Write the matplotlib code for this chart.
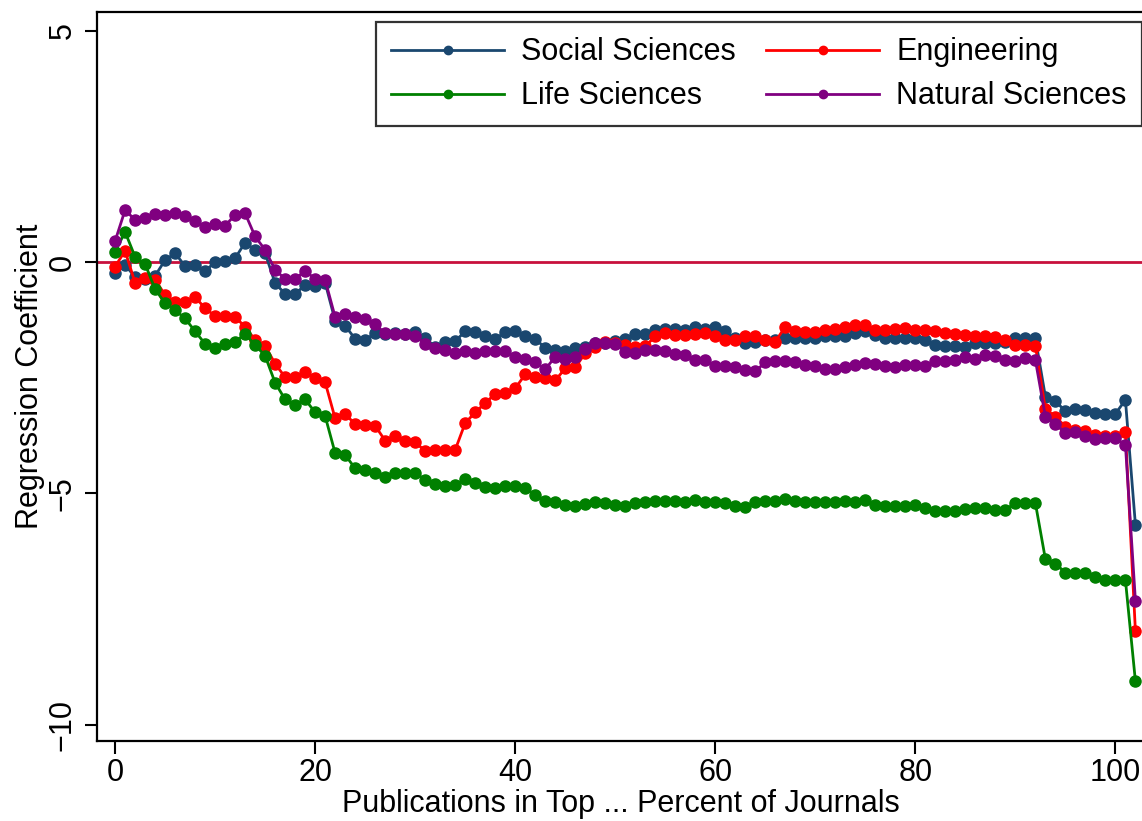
import matplotlib
matplotlib.use("Agg")
import matplotlib.pyplot as plt
import numpy as np

plt.rcParams['font.family'] = ['Liberation Sans', 'DejaVu Sans']

# Prozent der Top-Journale (0..102)
percent = np.arange(0, 103)

social = [-0.23, -0.06, -0.33, -0.37, -0.30, 0.04, 0.19, -0.09, -0.06, -0.19,
          -0.01, 0.02, 0.08, 0.42, 0.26, 0.19, -0.46, -0.69, -0.69, -0.50,
          -0.52, -0.45, -1.27, -1.38, -1.66, -1.68, -1.54, -1.55, -1.54, -1.55,
          -1.51, -1.65, -1.83, -1.72, -1.71, -1.50, -1.52, -1.61, -1.66, -1.52,
          -1.50, -1.61, -1.66, -1.86, -1.90, -1.93, -1.86, -1.84, -1.76, -1.75,
          -1.71, -1.66, -1.56, -1.56, -1.47, -1.45, -1.44, -1.47, -1.41, -1.44,
          -1.41, -1.50, -1.65, -1.76, -1.72, -1.68, -1.68, -1.65, -1.65, -1.65,
          -1.65, -1.61, -1.61, -1.61, -1.54, -1.50, -1.57, -1.65, -1.65, -1.65,
          -1.65, -1.68, -1.79, -1.81, -1.81, -1.83, -1.76, -1.76, -1.76, -1.72,
          -1.65, -1.65, -1.65, -2.91, -3.00, -3.23, -3.18, -3.19, -3.26, -3.28,
          -3.28, -2.98, -5.68]

engineering = [-0.10, 0.24, -0.45, -0.35, -0.39, -0.71, -0.86, -0.86, -0.76, -1.00,
               -1.17, -1.17, -1.18, -1.41, -1.68, -1.81, -2.20, -2.49, -2.49, -2.37,
               -2.51, -2.60, -3.38, -3.29, -3.50, -3.52, -3.54, -3.86, -3.75, -3.86,
               -3.90, -4.08, -4.07, -4.07, -4.06, -3.48, -3.25, -3.05, -2.85, -2.83,
               -2.73, -2.43, -2.49, -2.51, -2.56, -2.30, -2.28, -1.97, -1.84, -1.72,
               -1.75, -1.80, -1.83, -1.82, -1.61, -1.54, -1.57, -1.57, -1.56, -1.54,
               -1.59, -1.68, -1.68, -1.61, -1.61, -1.68, -1.72, -1.40, -1.50, -1.52,
               -1.52, -1.47, -1.45, -1.41, -1.36, -1.36, -1.47, -1.46, -1.44, -1.43,
               -1.46, -1.46, -1.50, -1.54, -1.55, -1.57, -1.59, -1.61, -1.62, -1.69,
               -1.79, -1.79, -1.81, -3.18, -3.34, -3.56, -3.63, -3.66, -3.74, -3.77,
               -3.76, -3.67, -7.98]

life = [0.22, 0.65, 0.11, -0.04, -0.59, -0.89, -1.04, -1.22, -1.50, -1.77,
        -1.86, -1.77, -1.72, -1.56, -1.79, -2.03, -2.61, -2.97, -3.09, -2.97,
        -3.25, -3.33, -4.13, -4.17, -4.46, -4.49, -4.56, -4.65, -4.56, -4.56,
        -4.55, -4.71, -4.79, -4.85, -4.82, -4.69, -4.78, -4.87, -4.88, -4.85,
        -4.85, -4.89, -5.03, -5.16, -5.18, -5.25, -5.27, -5.24, -5.18, -5.21,
        -5.25, -5.27, -5.21, -5.19, -5.17, -5.17, -5.17, -5.19, -5.14, -5.19,
        -5.19, -5.20, -5.27, -5.30, -5.18, -5.17, -5.17, -5.13, -5.17, -5.18,
        -5.18, -5.18, -5.18, -5.16, -5.18, -5.14, -5.25, -5.27, -5.27, -5.27,
        -5.25, -5.32, -5.37, -5.37, -5.39, -5.34, -5.32, -5.32, -5.35, -5.35,
        -5.21, -5.21, -5.21, -6.42, -6.52, -6.71, -6.72, -6.73, -6.81, -6.88,
        -6.87, -6.87, -9.06]

natural = [0.45, 1.12, 0.91, 0.94, 1.03, 1.02, 1.05, 0.99, 0.89, 0.75,
           0.81, 0.78, 1.02, 1.05, 0.55, 0.26, -0.17, -0.37, -0.37, -0.19,
           -0.37, -0.39, -1.19, -1.12, -1.20, -1.24, -1.35, -1.54, -1.56, -1.56,
           -1.60, -1.77, -1.86, -1.90, -1.97, -1.92, -1.97, -1.93, -1.93, -1.93,
           -2.05, -2.10, -2.17, -2.32, -2.05, -2.10, -2.05, -1.89, -1.76, -1.76,
           -1.77, -1.94, -1.97, -1.90, -1.90, -1.93, -1.98, -2.01, -2.12, -2.12,
           -2.25, -2.25, -2.28, -2.33, -2.36, -2.17, -2.14, -2.15, -2.17, -2.22,
           -2.25, -2.32, -2.32, -2.28, -2.22, -2.19, -2.21, -2.25, -2.28, -2.22,
           -2.22, -2.25, -2.15, -2.15, -2.12, -2.06, -2.10, -2.01, -2.03, -2.12,
           -2.15, -2.08, -2.12, -3.34, -3.50, -3.69, -3.67, -3.75, -3.83, -3.81,
           -3.81, -3.95, -7.32]

fig = plt.figure(figsize=(11.42, 8.21), dpi=100)
ax = fig.add_axes([0.085, 0.0974, 0.918, 0.888])

ax.axhline(0, color='#c8103c', linewidth=2, zorder=1)

kw = dict(marker='o', markersize=8, linewidth=2)
l_soc, = ax.plot(percent, social, color='#1a476f', label='Social Sciences', **kw)
l_eng, = ax.plot(percent, engineering, color='#ff0000', label='Engineering', **kw)
l_life, = ax.plot(percent, life, color='#008000', label='Life Sciences', **kw)
l_nat, = ax.plot(percent, natural, color='#800080', label='Natural Sciences', **kw)

ax.set_xlim(-1.8, 103.0)
ax.set_ylim(-10.35, 5.4)
ax.set_xticks([0, 20, 40, 60, 80, 100])
ax.set_yticks([-10, -5, 0, 5])
ax.set_yticklabels(['\u221210', '\u22125', '0', '5'], rotation=90, va='center')

ax.tick_params(axis='both', labelsize=22, length=9, width=1.5, color='black')
ax.tick_params(axis='x', pad=3)
ax.tick_params(axis='y', pad=5)
for s in ax.spines.values():
    s.set_linewidth(1.6)

ax.set_xlabel('Publications in Top ... Percent of Journals', fontsize=22, labelpad=1)
ax.set_ylabel('Regression Coefficient', fontsize=22, labelpad=2)

leg = ax.legend(handles=[l_soc, l_life, l_eng, l_nat], ncol=2,
                loc='upper left', bbox_to_anchor=(0.266, 0.986),
                fontsize=22, frameon=True, fancybox=False, edgecolor='black',
                handlelength=3.7, handletextpad=0.55, columnspacing=1.0,
                borderpad=0.5, labelspacing=0.45, markerscale=0.75,
                borderaxespad=0)
leg.get_frame().set_linewidth(1.6)

fig.savefig('out.png', dpi=100)
